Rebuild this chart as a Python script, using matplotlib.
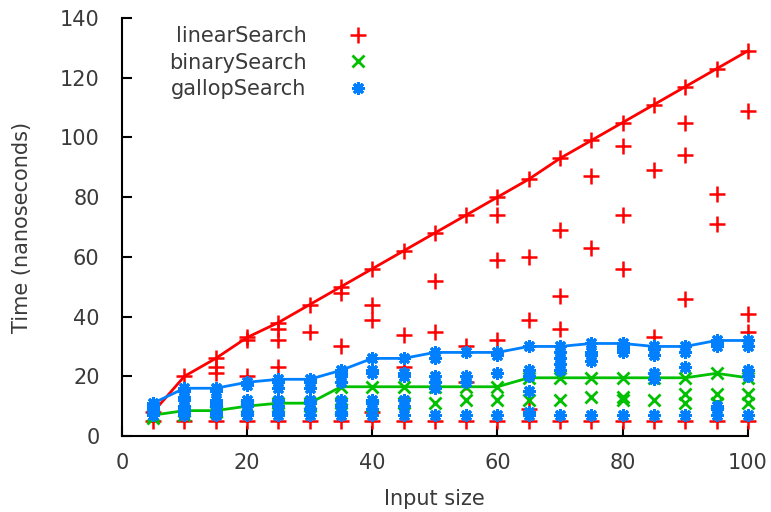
import numpy as np
import matplotlib
matplotlib.use("Agg")
import matplotlib.pyplot as plt

# input sizes
sizes = [5, 10, 15, 20, 25, 30, 35, 40, 45, 50, 55, 60, 65, 70, 75, 80, 85, 90, 95, 100]

# measured times (ns) for each input size
linear_times = [
    [8, 5], [20, 5], [26, 23, 21, 5], [33, 32, 20, 5], [38, 36, 32, 23, 5],
    [44, 35, 5], [50, 48, 30, 5], [56, 44, 39, 8, 5], [62, 34, 23, 5], [68, 52, 35, 5],
    [74, 30, 18, 5], [80, 74, 59, 32, 5], [86, 60, 39, 9, 5], [93, 69, 47, 36, 5], [99, 87, 63, 5],
    [105, 97, 74, 56, 5], [111, 89, 33, 5], [117, 105, 94, 46, 5], [123, 81, 71, 5], [129, 109, 41, 35, 5],
]
binary_times = [
    [7, 6], [8.5, 7], [8.5, 8], [10, 9], [11, 10],
    [11, 10], [16.5, 11, 9], [16.5, 10], [16.5, 11], [16.5, 11],
    [16.5, 12], [16.5, 12], [19.5, 12], [19.5, 12], [19.5, 13],
    [19.5, 13, 12], [19.5, 12], [19.5, 14, 11], [21, 14, 11], [19.5, 14, 11],
]
gallop_times = [
    [11, 10, 9, 8, 7], [16, 15, 13, 12, 10, 9, 8, 7], [16, 15, 12, 11, 10, 8, 7],
    [18, 17, 12, 11, 10, 8, 7], [19, 18, 16, 12, 10, 8, 7], [19, 18, 16, 12, 11, 9, 7],
    [22, 21, 20, 18, 12, 10, 8, 7], [26, 22, 21, 12, 11, 9, 7], [26, 21, 20, 12, 10, 7],
    [28, 26, 20, 18, 16, 7], [28, 20, 18, 7], [28, 27, 21, 7], [30, 22, 20, 15, 8, 7],
    [30, 28, 26, 24, 22, 7], [31, 28, 27, 25, 7], [31, 30, 29, 28, 7], [30, 29, 27, 21, 19, 7],
    [30, 28, 23, 7], [32, 31, 30, 10, 9, 7], [32, 30, 22, 20, 7],
]

text_col = "#3a3a3a"
fs = 15
plt.rcParams["font.family"] = "DejaVu Sans"
plt.rcParams["font.size"] = fs

fig = plt.figure(figsize=(7.71, 5.12), dpi=100)
ax = fig.add_axes([0.158, 0.1484, 0.812, 0.8164])

series = [
    ("linearSearch", linear_times, "#ff0000", "+", 11, 1.8),
    ("binarySearch", binary_times, "#00c000", "x", 8, 2.0),
    ("gallopSearch", gallop_times, "#0080ff", (8, 2, 0), 9, 2.2),
]

for name, times, col, mk, ms, mew in series:
    xs = np.concatenate([[s] * len(t) for s, t in zip(sizes, times)])
    ys = np.concatenate(times)
    ax.plot(xs, ys, linestyle="none", marker=mk, color=col, markersize=ms,
            markeredgewidth=mew, label=name, clip_on=False, zorder=3)
    worst = [max(t) for t in times]
    ax.plot(sizes, worst, color=col, linewidth=2, clip_on=False, zorder=3)

ax.set_xlim(0, 100)
ax.set_ylim(0, 140)
ax.set_xticks(range(0, 101, 20))
ax.set_yticks(range(0, 141, 20))
for s in ["top", "right"]:
    ax.spines[s].set_visible(False)
for s in ["left", "bottom"]:
    ax.spines[s].set_linewidth(1.5)
ax.tick_params(direction="in", length=7, width=1.5, colors="black",
               labelcolor=text_col, labelsize=fs)
ax.tick_params(axis="x", pad=12)
ax.tick_params(axis="y", pad=16)

ax.set_xlabel("Input size", color=text_col, fontsize=fs, labelpad=12)
ax.set_ylabel("Time (nanoseconds)", color=text_col, fontsize=fs, labelpad=20)

leg = ax.legend(loc="upper left", bbox_to_anchor=(0.045, 1.025), frameon=False,
                markerfirst=False, handlelength=2.0, handletextpad=1.5,
                labelspacing=0.3, fontsize=fs)
for t in leg.get_texts():
    t.set_color(text_col)

plt.savefig("out.png", dpi=100)
